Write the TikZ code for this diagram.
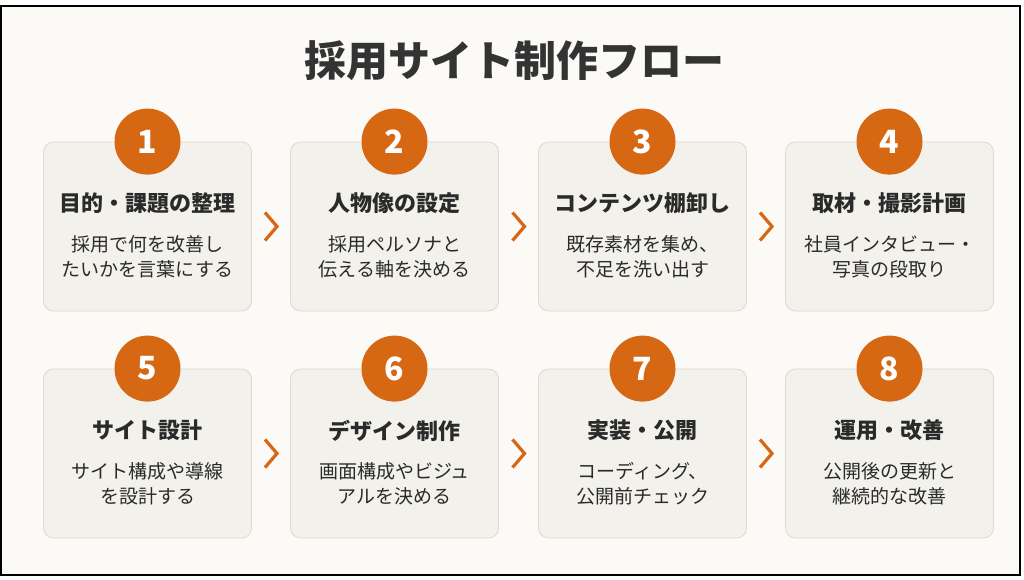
\documentclass[tikz,border=0pt]{standalone}
\usepackage{fontspec}
\setmainfont{Noto Sans CJK JP}
\usetikzlibrary{calc}
\definecolor{bgc}{HTML}{FBFAF7}
\definecolor{cardfill}{HTML}{F2F1EC}
\definecolor{cardline}{HTML}{DCD9D0}
\definecolor{accent}{HTML}{D66814}
\definecolor{titlec}{HTML}{333333}
\definecolor{textc}{HTML}{2A2A2A}
\tikzset{
  card/.style={draw=cardline, fill=cardfill, rounded corners=10pt, line width=0.8pt,
    minimum width=208pt, minimum height=169pt, inner sep=0pt},
  num/.style={circle, fill=accent, minimum size=66pt, inner sep=0pt, text=white,
    font=\bfseries\fontsize{32}{32}\selectfont},
  head/.style={font=\bfseries\fontsize{22}{26}\selectfont, text=textc, inner sep=0pt},
  desc/.style={font=\fontsize{19}{25}\selectfont, align=center, text=textc, inner sep=0pt},
  chev/.style={draw=accent, line width=3.2pt, line cap=butt, line join=miter},
  ttl/.style={font=\bfseries\fontsize{42}{46}\selectfont, text=titlec}
}
\begin{document}
\begin{tikzpicture}[x=1pt,y=-1pt]
\useasboundingbox (0,0) rectangle (1024,580);
\fill[white] (0,0) rectangle (1024,580);
\draw[line width=2pt, fill=bgc] (1.3,6) rectangle (1020,575);
\node[ttl] (title) at (514,61) {採用サイト制作フロー};
\foreach \i/\x/\y/\h/\d in {
  1/147.5/226.5/{目的・課題の整理}/{採用で何を改善し\\たいかを言葉にする},
  2/394.5/226.5/{人物像の設定}/{採用ペルソナと\\伝える軸を決める},
  3/642.5/226.5/{コンテンツ棚卸し}/{既存素材を集め、\\不足を洗い出す},
  4/889.5/226.5/{取材・撮影計画}/{社員インタビュー・\\写真の段取り},
  5/147.5/453.5/{サイト設計}/{サイト構成や導線\\を設計する},
  6/394.5/453.5/{デザイン制作}/{画面構成やビジュ\\アルを決める},
  7/642.5/453.5/{実装・公開}/{コーディング、\\公開前チェック},
  8/889.5/453.5/{運用・改善}/{公開後の更新と\\継続的な改善}}{
  \node[card] (c\i) at (\x,\y) {};
  \node[num] (n\i) at (c\i.north) {\i};
  \node[head] (h\i) at ($(c\i.north)+(0,62)$) {\h};
  \node[desc] (d\i) at ($(c\i.north)+(0,115)$) {\d};
}
\foreach \a/\b in {1/2,2/3,3/4,5/6,6/7,7/8}{
  \coordinate (m\a) at ($(c\a.east)!0.5!(c\b.west)$);
  \draw[chev] ($(m\a)+(-6,-14)$) -- ($(m\a)+(6,0)$) -- ($(m\a)+(-6,14)$);
}
\end{tikzpicture}
\end{document}
